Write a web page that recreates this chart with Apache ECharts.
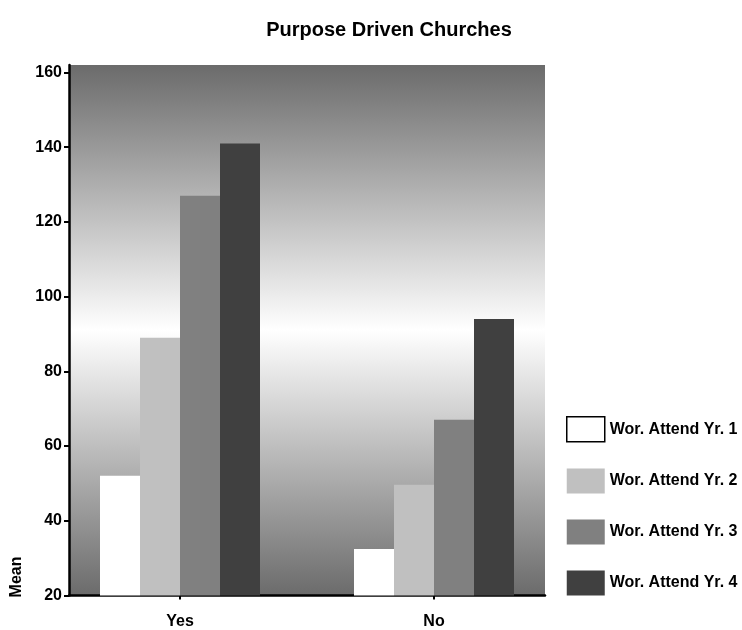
<!DOCTYPE html>
<html>
<head>
<meta charset="utf-8">
<script src="https://cdn.jsdelivr.net/npm/echarts@6/dist/echarts.min.js"></script>
<style>
  html, body { margin: 0; padding: 0; background: #ffffff; }
  #chart { width: 742px; height: 630px; }
</style>
</head>
<body>
<div id="chart"></div>
<script>
// Mean worship attendance by year, grouped by purpose-driven status
const categories = ['Yes', 'No'];
const seriesNames = ['Wor. Attend Yr. 1', 'Wor. Attend Yr. 2', 'Wor. Attend Yr. 3', 'Wor. Attend Yr. 4'];
const yr1 = [52, 32.4];
const yr2 = [89, 49.6];
const yr3 = [127, 67];
const yr4 = [141, 94];
const yTicks = [20, 40, 60, 80, 100, 120, 140, 160];

const seriesValues = [yr1, yr2, yr3, yr4];
const barColors = ['#ffffff', '#c0c0c0', '#808080', '#404040'];
const FONT = '"Liberation Sans", Arial, sans-serif';
const Y_MIN = 20, Y_MAX = 162;

const chart = echarts.init(document.getElementById('chart'), null, { renderer: 'canvas' });

const bgGradient = new echarts.graphic.LinearGradient(0, 0, 0, 1, [
  { offset: 0, color: '#6b6b6b' },
  { offset: 0.5, color: '#ffffff' },
  { offset: 1, color: '#6b6b6b' }
]);

const option = {
  animation: false,
  backgroundColor: '#ffffff',
  title: {
    text: 'Purpose Driven Churches',
    left: 384,
    textAlign: 'center',
    top: 15,
    textStyle: { fontFamily: FONT, fontWeight: 'bold', fontSize: 20, color: '#000' }
  },
  legend: {
    orient: 'vertical',
    left: 566,
    top: 416,
    padding: 0,
    itemWidth: 38,
    itemHeight: 25,
    itemGap: 26,
    icon: 'rect',
    textStyle: { fontFamily: FONT, fontWeight: 'bold', fontSize: 16, color: '#000' },
    data: seriesNames.map((n, i) => ({
      name: n,
      itemStyle: i === 0 ? { color: '#ffffff', borderColor: '#000', borderWidth: 1.5 } : { color: barColors[i] }
    }))
  },
  graphic: [{
    type: 'text',
    x: 17,
    y: 577,
    rotation: Math.PI / 2,
    style: {
      text: 'Mean',
      fontFamily: FONT,
      fontWeight: 'bold',
      fontSize: 16,
      fill: '#000',
      textAlign: 'center',
      textVerticalAlign: 'middle'
    }
  }],
  grid: [
    // framed plot area with shaded background and visible axes
    { left: 69, right: 197, top: 65, bottom: 34.6, show: true, backgroundColor: bgGradient, borderWidth: 0 },
    // wider band layout that positions the bar groups
    { left: 53, right: 181, top: 65, bottom: 34.6 }
  ],
  xAxis: [
    {
      gridIndex: 0, type: 'category', data: categories,
      axisLine: { lineStyle: { color: '#000', width: 2.5 } },
      axisTick: { show: false },
      axisLabel: { show: false },
      splitLine: { show: false }
    },
    {
      gridIndex: 1, type: 'category', data: categories,
      axisLine: { show: false },
      axisTick: { show: true, alignWithLabel: true, length: 4, lineStyle: { color: '#000', width: 2 } },
      axisLabel: { fontFamily: FONT, fontWeight: 'bold', fontSize: 16, color: '#000', margin: 18 },
      splitLine: { show: false }
    }
  ],
  yAxis: [
    {
      gridIndex: 0, type: 'value', min: Y_MIN, max: Y_MAX, interval: 20,
      axisLine: { show: true, lineStyle: { color: '#000', width: 2.5 } },
      axisTick: { show: true, length: 5, lineStyle: { color: '#000', width: 2 }, customValues: yTicks },
      axisLabel: { fontFamily: FONT, fontWeight: 'bold', fontSize: 16, color: '#000', margin: 7, customValues: yTicks },
      splitLine: { show: false }
    },
    {
      gridIndex: 1, type: 'value', min: Y_MIN, max: Y_MAX, interval: 20,
      show: false,
      splitLine: { show: false }
    }
  ],
  series: seriesNames.map((name, i) => ({
    name: name,
    type: 'bar',
    xAxisIndex: 1,
    yAxisIndex: 1,
    data: seriesValues[i],
    barWidth: 40,
    barGap: '0%',
    itemStyle: { color: barColors[i] },
    emphasis: { disabled: true }
  }))
};

chart.setOption(option);
</script>
</body>
</html>
